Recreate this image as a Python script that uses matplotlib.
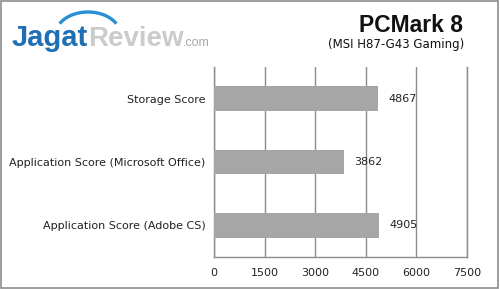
import matplotlib.pyplot as plt
from matplotlib.patches import Arc, Rectangle

categories = ["Storage Score", "Application Score (Microsoft Office)", "Application Score (Adobe CS)"]
scores = [4867, 3862, 4905]
ticks = [0, 1500, 3000, 4500, 6000, 7500]

W, H = 500, 289
fig = plt.figure(figsize=(W / 100, H / 100), dpi=100)
fig.patch.set_facecolor("white")

# outer frame
fig.patches.append(Rectangle((1 / W, 1 / H), 497 / W, 287 / H, transform=fig.transFigure,
                             fill=False, edgecolor="#8c8c8c", linewidth=1.2))

# plot area: x 214..467, y 67..257 in pixels
ax = fig.add_axes([214 / W, 1 - 257 / H, 253 / W, 190 / H])
pos = list(range(len(categories)))
ax.barh(pos, scores, height=0.385, color="#a6a6a6", zorder=3)
ax.set_ylim(len(categories) - 0.5, -0.5)
ax.set_xlim(0, 7500)
ax.set_xticks(ticks)
ax.set_xticklabels([str(t) for t in ticks])
ax.set_yticks(pos)
ax.set_yticklabels(categories)
ax.tick_params(axis="both", length=0, labelsize=8, colors="#222222", pad=8)
ax.tick_params(axis="y", pad=6)
ax.xaxis.grid(True, color="#8c8c8c", linewidth=1.0, zorder=0)
ax.spines["top"].set_visible(False)
for s in ["left", "bottom", "right"]:
    ax.spines[s].set_color("#8c8c8c")
    ax.spines[s].set_linewidth(1.0)

for p, v in zip(pos, scores):
    ax.text(v + 300, p, str(v), va="center", ha="left", fontsize=8, color="#222222", zorder=4)

# title
fig.text(463 / W, 1 - 32 / H, "PCMark 8", ha="right", va="baseline", fontsize=16.5,
         fontweight="bold", family="Liberation Sans", color="#111111")
fig.text(464 / W, 1 - 45 / H, "(MSI H87-G43 Gaming)", ha="right", va="center", fontsize=8.5,
         color="#111111")

# logo
fig.text(12 / W, 1 - 46 / H, "Jagat", ha="left", va="baseline", fontsize=21,
         fontweight="bold", family="Liberation Sans", color="#1f6fb4")
fig.text(88 / W, 1 - 46 / H, "Review", ha="left", va="baseline", fontsize=20,
         fontweight="bold", family="Liberation Sans", color="#c9cbcc")
fig.text(183 / W, 1 - 46 / H, ".com", ha="left", va="baseline", fontsize=9,
         family="Liberation Sans", color="#a5a7a8")
arc_ax = fig.add_axes([0, 0, 1, 1], facecolor="none")
arc_ax.set_xlim(0, W)
arc_ax.set_ylim(H, 0)
arc_ax.axis("off")
arc_ax.add_patch(Arc((88, 34), 64, 44, theta1=200, theta2=340, color="#2a8fd6", linewidth=2.4))

fig.savefig("out.png", dpi=100)
